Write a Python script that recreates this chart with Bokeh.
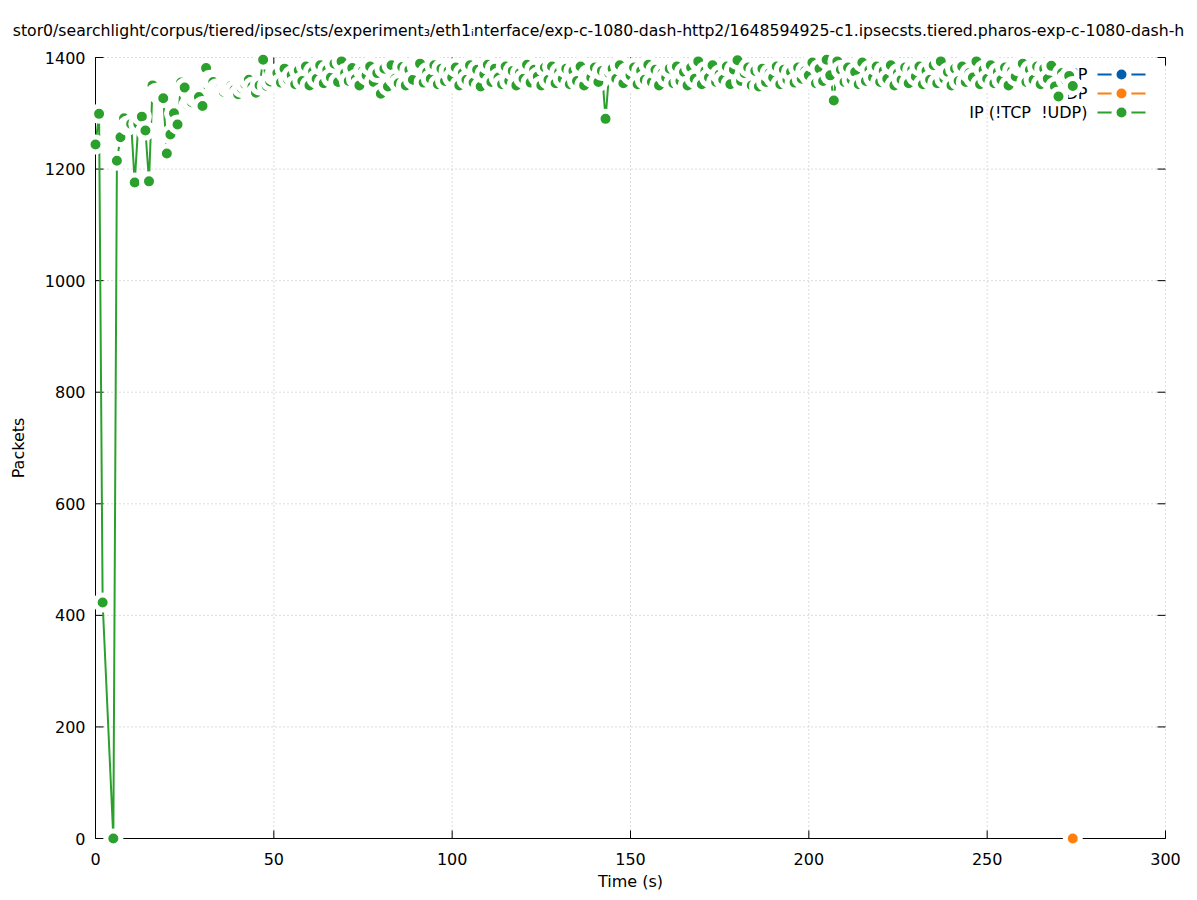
from bokeh.plotting import figure
from bokeh.models import Range1d
from bokeh.core.properties import value
from bokeh.embed import file_html
from bokeh.resources import INLINE
import math

# ---------------- data ----------------
title_text = ("stor0/searchlight/corpus/tiered/ipsec/sts/experiment\u2083/eth1\u1d62nterface/"
              "exp-c-1080-dash-http2/1648594925-c1.ipsecsts.tiered.pharos-exp-c-1080-dash-h")
x_label = "Time (s)"
y_label = "Packets"
series_names = ["TCP", "UDP", "IP (!TCP \u00a0!UDP)"]
series_colors = ["#0060ad", "#ff7f0e", "#2ca02c"]
x_ticks = [0, 50, 100, 150, 200, 250, 300]
y_ticks = [0, 200, 400, 600, 800, 1000, 1200, 1400]

tcp_times = []
tcp_packets = []
udp_times = [274]
udp_packets = [0]

ip_times = [
    0, 1, 2, 5, 6, 7, 8, 9, 10,
    11, 12, 13, 14, 15, 16, 17, 18, 19, 20,
    21, 22, 23, 24, 25, 26, 27, 28, 29, 30,
    31, 32, 33, 34, 35, 36, 37, 38, 39, 40,
    41, 42, 43, 44, 45, 46, 47, 48, 49, 50,
    51, 52, 53, 54, 55, 56, 57, 58, 59, 60,
    61, 62, 63, 64, 65, 66, 67, 68, 69, 70,
    71, 72, 73, 74, 75, 76, 77, 78, 79, 80,
    81, 82, 83, 84, 85, 86, 87, 88, 89, 90,
    91, 92, 93, 94, 95, 96, 97, 98, 99, 100,
    101, 102, 103, 104, 105, 106, 107, 108, 109, 110,
    111, 112, 113, 114, 115, 116, 117, 118, 119, 120,
    121, 122, 123, 124, 125, 126, 127, 128, 129, 130,
    131, 132, 133, 134, 135, 136, 137, 138, 139, 140,
    141, 142, 143, 144, 145, 146, 147, 148, 149, 150,
    151, 152, 153, 154, 155, 156, 157, 158, 159, 160,
    161, 162, 163, 164, 165, 166, 167, 168, 169, 170,
    171, 172, 173, 174, 175, 176, 177, 178, 179, 180,
    181, 182, 183, 184, 185, 186, 187, 188, 189, 190,
    191, 192, 193, 194, 195, 196, 197, 198, 199, 200,
    201, 202, 203, 204, 205, 206, 207, 208, 209, 210,
    211, 212, 213, 214, 215, 216, 217, 218, 219, 220,
    221, 222, 223, 224, 225, 226, 227, 228, 229, 230,
    231, 232, 233, 234, 235, 236, 237, 238, 239, 240,
    241, 242, 243, 244, 245, 246, 247, 248, 249, 250,
    251, 252, 253, 254, 255, 256, 257, 258, 259, 260,
    261, 262, 263, 264, 265, 266, 267, 268, 269, 270,
    271, 272, 273, 274,
]
ip_packets = [
    1244, 1299, 423, 0, 1215, 1257, 1291, 1278, 1281,
    1176, 1281, 1294, 1269, 1178, 1350, 1337, 1332, 1327, 1228,
    1262, 1300, 1280, 1355, 1346, 1314, 1320, 1328, 1329, 1313,
    1381, 1360, 1356, 1345, 1344, 1338, 1346, 1349, 1342, 1334,
    1345, 1352, 1360, 1348, 1337, 1350, 1396, 1349, 1357, 1367,
    1372, 1355, 1380, 1360, 1368, 1352, 1377, 1358, 1384, 1350,
    1375, 1362, 1386, 1354, 1378, 1364, 1389, 1356, 1393, 1372,
    1358, 1381, 1362, 1350, 1376, 1368, 1384, 1356, 1372, 1335,
    1380, 1348, 1386, 1362, 1354, 1383, 1350, 1378, 1360, 1385,
    1389, 1355, 1374, 1362, 1386, 1352, 1380, 1358, 1376, 1364,
    1382, 1350, 1372, 1360, 1386, 1355, 1378, 1348, 1370, 1387,
    1356, 1380, 1364, 1352, 1384, 1358, 1376, 1350, 1372, 1362,
    1387, 1355, 1378, 1366, 1350, 1382, 1360, 1384, 1354, 1374,
    1362, 1380, 1352, 1376, 1358, 1384, 1350, 1370, 1364, 1382,
    1356, 1376, 1290, 1372, 1380, 1362, 1386, 1354, 1374, 1368,
    1382, 1352, 1376, 1360, 1387, 1356, 1378, 1350, 1372, 1364,
    1380, 1354, 1384, 1358, 1374, 1350, 1382, 1362, 1393, 1352,
    1376, 1364, 1386, 1356, 1370, 1360, 1384, 1352, 1378, 1395,
    1358, 1372, 1382, 1350, 1376, 1348, 1380, 1356, 1372, 1364,
    1384, 1352, 1378, 1360, 1374, 1355, 1382, 1362, 1376, 1368,
    1391, 1354, 1380, 1358, 1396, 1368, 1323, 1393, 1378, 1356,
    1382, 1360, 1374, 1352, 1391, 1358, 1378, 1364, 1384, 1356,
    1376, 1362, 1386, 1350, 1372, 1360, 1382, 1354, 1378, 1366,
    1384, 1352, 1376, 1360, 1386, 1354, 1393, 1362, 1374, 1350,
    1380, 1358, 1384, 1356, 1372, 1364, 1393, 1352, 1378, 1362,
    1386, 1354, 1374, 1360, 1382, 1350, 1376, 1366, 1384, 1389,
    1356, 1378, 1360, 1384, 1352, 1380, 1362, 1385, 1348, 1330,
    1372, 1360, 1367, 1349,
]

# ---------------- layout (canvas pixels) ----------------
W, H = 1189, 892
BOX_L, BOX_R, BOX_T, BOX_B = 95, 1165, 57, 838
FONT = "DejaVu Sans"
XMAX = x_ticks[-1]
YMAX = y_ticks[-1]
sx = (BOX_R - BOX_L) / XMAX
sy = (BOX_B - BOX_T) / YMAX


def X(cx):
    return (cx - BOX_L) / sx


def Y(cy):
    return (BOX_B - cy) / sy


p = figure(width=W, height=H,
           x_range=Range1d(X(0), X(W)), y_range=Range1d(Y(H), Y(0)),
           output_backend="svg", toolbar_location=None,
           x_axis_location=None, y_axis_location=None,
           min_border=0, min_border_left=0, min_border_right=0,
           min_border_top=0, min_border_bottom=0)
p.outline_line_color = None
p.grid.visible = False
p.background_fill_color = "white"
p.border_fill_color = "white"

nx, ny = len(x_ticks), len(y_ticks)

# grid (dotted)
grid_col = "#b8b8b8"
p.segment(x0=x_ticks, y0=[0] * nx, x1=x_ticks, y1=[YMAX] * nx,
          line_color=grid_col, line_width=1, line_dash="1 3")
p.segment(x0=[0] * ny, y0=y_ticks, x1=[XMAX] * ny, y1=y_ticks,
          line_color=grid_col, line_width=1, line_dash="1 3")

# border (left + bottom) and mirrored inward ticks
TL = 8
p.segment(x0=[0, 0], y0=[0, 0], x1=[0, XMAX], y1=[YMAX, 0], line_color="black", line_width=1)
p.segment(x0=[0] * ny, y0=y_ticks, x1=[TL / sx] * ny, y1=y_ticks, line_color="black", line_width=1)
p.segment(x0=[XMAX - TL / sx] * ny, y0=y_ticks, x1=[XMAX] * ny, y1=y_ticks, line_color="black", line_width=1)
p.segment(x0=x_ticks, y0=[0] * nx, x1=x_ticks, y1=[TL / sy] * nx, line_color="black", line_width=1)
p.segment(x0=x_ticks, y0=[YMAX - TL / sy] * nx, x1=x_ticks, y1=[YMAX] * nx, line_color="black", line_width=1)

# tick labels
p.text(x=[X(85)] * ny, y=y_ticks, text=[str(v) for v in y_ticks], text_align="right",
       text_baseline="middle", text_font=value(FONT), text_font_size="16px", text_color="black")
p.text(x=x_ticks, y=[Y(858)] * nx, text=[str(v) for v in x_ticks], text_align="center",
       text_baseline="middle", text_font=value(FONT), text_font_size="16px", text_color="black")

# titles
p.text(x=[X(598)], y=[Y(30)], text=[title_text], text_align="center", text_baseline="middle",
       text_font=value(FONT), text_font_size="15.7px", text_color="black")
p.text(x=[XMAX / 2], y=[Y(881)], text=[x_label], text_align="center", text_baseline="middle",
       text_font=value(FONT), text_font_size="16px", text_color="black")
p.text(x=[X(18)], y=[YMAX / 2], text=[y_label], text_align="center", text_baseline="middle",
       angle=math.pi / 2, text_font=value(FONT), text_font_size="16px", text_color="black")

# key text (drawn before the data, so the data covers it)
key_y = [Y(74), Y(93), Y(112)]
p.text(x=[X(1087)] * 3, y=key_y, text=series_names, text_align="right", text_baseline="middle",
       text_font=value(FONT), text_font_size="16px", text_color="black")

# data: line + points with white halo
DOT = 15
HALO = 5
for tt, vv, col in ((tcp_times, tcp_packets, series_colors[0]),
                    (udp_times, udp_packets, series_colors[1]),
                    (ip_times, ip_packets, series_colors[2])):
    p.line(tt, vv, line_color=col, line_width=2)
    p.scatter(tt, vv, marker="circle", size=DOT, fill_color=col, line_color="white", line_width=HALO)

# key samples
for ky, col in zip(key_y, series_colors):
    p.segment(x0=[X(1097)], y0=[ky], x1=[X(1145)], y1=[ky], line_color=col, line_width=2)
    p.scatter([X(1121)], [ky], marker="circle", size=DOT, fill_color=col, line_color="white", line_width=HALO)

open("out.html", "w").write(file_html(p, INLINE))
